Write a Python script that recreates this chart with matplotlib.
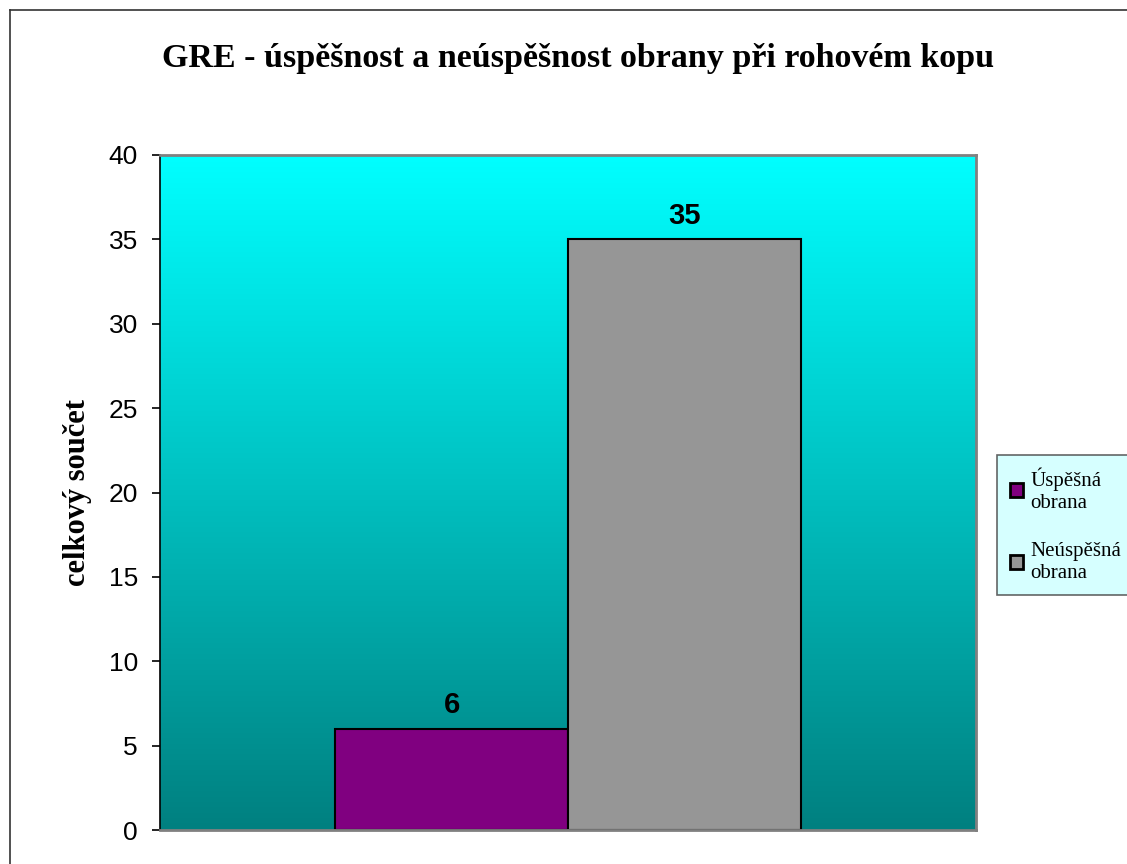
import matplotlib.pyplot as plt
import numpy as np
from matplotlib.lines import Line2D
from matplotlib.patches import Patch

categories = ["Úspěšná\nobrana", "Neúspěšná\nobrana"]
values = [6, 35]
colors = ["#800080", "#969696"]
yticks = [0, 5, 10, 15, 20, 25, 30, 35, 40]


def solve():
    fig = plt.figure(figsize=(11.27, 8.64), dpi=100)
    ax = fig.add_axes([160 / 1127, 34 / 864, 816 / 1127, 675 / 864])

    # gradient background cyan -> teal
    grad = np.linspace(0, 1, 256).reshape(-1, 1)
    top = np.array([0, 255, 255]) / 255
    bot = np.array([0, 128, 128]) / 255
    img = top[None, None, :] * (1 - grad[:, :, None]) + bot[None, None, :] * grad[:, :, None]
    ax.imshow(img, extent=[-0.5, 0.5, 0, 40], aspect="auto", zorder=0)

    w = 0.2855
    xs = [-w / 2, w / 2]
    for x, v, c in zip(xs, values, colors):
        ax.bar(x, v, w, color=c, edgecolor="black", linewidth=1.5, zorder=2)
        ax.text(x, v + 1.4, str(v), ha="center", va="center", fontsize=21,
                fontweight="bold", family="Liberation Sans", zorder=3)

    ax.set_xlim(-0.5, 0.5)
    ax.set_ylim(0, 40)
    ax.set_xticks([])
    ax.set_yticks(yticks)
    ax.set_yticklabels([str(t) for t in yticks], family="Liberation Sans", fontsize=19)
    ax.tick_params(axis="y", direction="out", length=6, width=1.2, pad=10)
    for s in ["top", "right", "bottom"]:
        ax.spines[s].set_color("#808080")
        ax.spines[s].set_linewidth(2)
    ax.spines["left"].set_color("black")
    ax.spines["left"].set_linewidth(1.2)
    ax.set_ylabel("celkový součet", family="Liberation Serif", fontweight="bold",
                  fontsize=22, labelpad=12)

    fig.text(0.513, 1 - 58 / 864, "GRE - úspěšnost a neúspěšnost obrany při rohovém kopu",
             ha="center", va="center", family="Liberation Serif", fontweight="bold", fontsize=24.5)

    handles = [Patch(facecolor=c, edgecolor="black", linewidth=2) for c in colors]
    leg = fig.legend(handles, categories, loc="upper left",
                     bbox_to_anchor=(997 / 1127, 1 - 455 / 864),
                     prop={"family": "Liberation Serif", "size": 15},
                     frameon=True, fancybox=False, handlelength=0.65, handleheight=0.65,
                     handletextpad=0.35, labelspacing=1.4, borderpad=0.6, borderaxespad=0)
    leg.get_frame().set_facecolor("#CCFFFF")
    leg.get_frame().set_edgecolor("#404040")
    leg.get_frame().set_linewidth(1.2)

    # outer chart border
    fig.add_artist(Line2D([10 / 1127, 10 / 1127], [0, 1 - 10 / 864], color="#333333", lw=1.2))
    fig.add_artist(Line2D([10 / 1127, 1], [1 - 10 / 864, 1 - 10 / 864], color="#333333", lw=1.2))

    fig.savefig("out.png", dpi=100)


if __name__ == "__main__":
    solve()
